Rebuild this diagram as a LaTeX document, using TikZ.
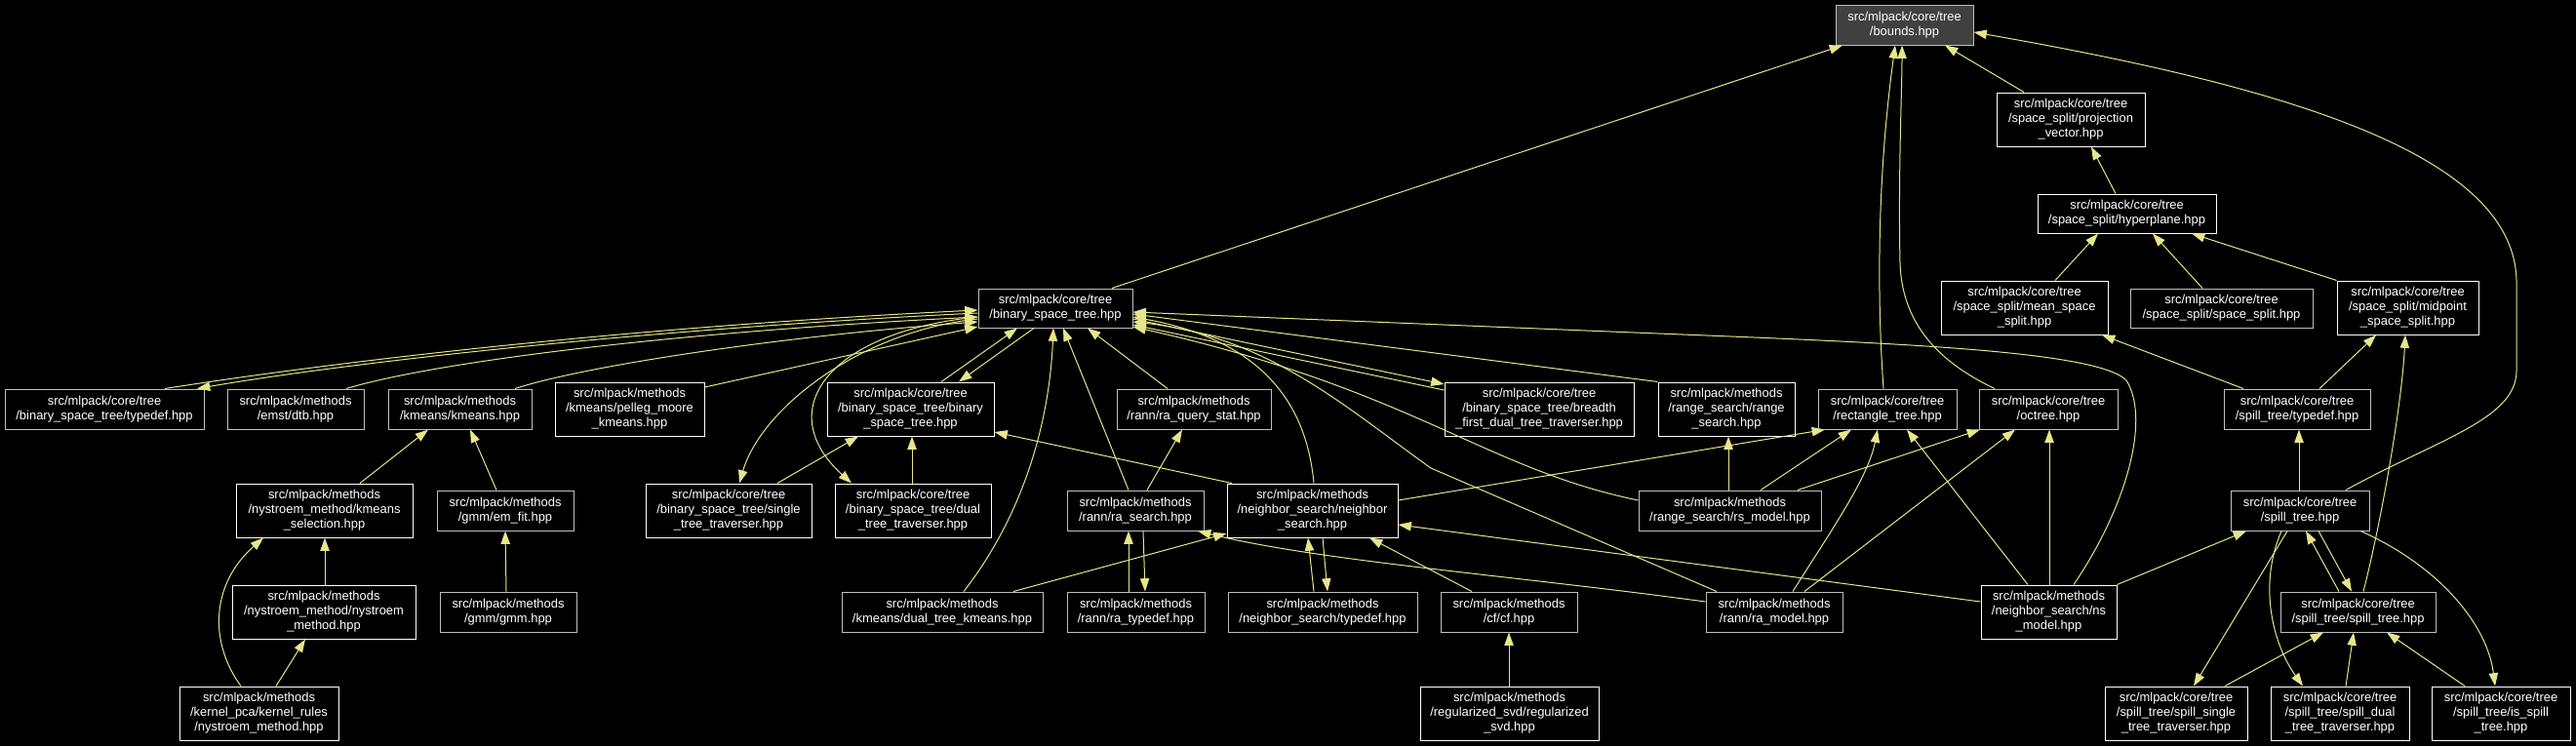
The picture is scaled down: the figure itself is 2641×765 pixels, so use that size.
\documentclass[tikz,border=0pt]{standalone}
\usepackage{fontspec}
\setmainfont{Liberation Sans}
\usetikzlibrary{arrows.meta}
\definecolor{edgecol}{HTML}{E6E68A}
\definecolor{graybd}{HTML}{BFBFBF}
\definecolor{rootfill}{HTML}{404040}
\newcommand{\mkbox}[7][wb]{\node[#1, minimum width={(#5-#3)*0.75pt}, minimum height={(#6-#4)*0.75pt}] (#2) at ({(#3+#5)/2},{(#4+#6)/2}) {#7};}
\tikzset{
  basebox/.style={rectangle, fill=black, text=white, inner sep=0pt, align=center, line width=0.75pt,
     font=\fontsize{9.7pt}{11.25pt}\selectfont},
  wb/.style={basebox, draw=white},
  gb/.style={basebox, draw=graybd},
  rb/.style={basebox, draw=graybd, fill=rootfill},
  edge/.style={draw=edgecol, line width=0.75pt, -{Triangle[length=10pt,width=7pt,fill=edgecol]}}
}
\begin{document}
\begin{tikzpicture}[x=0.75pt,y=-0.75pt]
\fill[black] (0,0) rectangle (2641,765);
\useasboundingbox (0,0) rectangle (2641,765);
% nodes
\mkbox[rb]{bounds}{1882}{5}{2023}{46}{src/mlpack/core/tree\\/bounds.hpp}
\mkbox{projv}{2047}{95}{2199}{150}{src/mlpack/core/tree\\/space\_split/projection\\\_vector.hpp}
\mkbox{hyper}{2089}{199}{2272}{239}{src/mlpack/core/tree\\/space\_split/hyperplane.hpp}
\mkbox{meanss}{1990}{288}{2161}{343}{src/mlpack/core/tree\\/space\_split/mean\_space\\\_split.hpp}
\mkbox[gb]{ss}{2184}{296}{2371}{336}{src/mlpack/core/tree\\/space\_split/space\_split.hpp}
\mkbox{midss}{2396}{288}{2541}{343}{src/mlpack/core/tree\\/space\_split/midpoint\\\_space\_split.hpp}
\mkbox[gb]{bst}{1003}{296}{1161}{336}{src/mlpack/core/tree\\/binary\_space\_tree.hpp}
\mkbox[gb]{bsttd}{5}{399}{209}{440}{src/mlpack/core/tree\\/binary\_space\_tree/typedef.hpp}
\mkbox[gb]{emst}{233}{399}{373}{440}{src/mlpack/methods\\/emst/dtb.hpp}
\mkbox[gb]{kmeans}{398}{399}{545}{440}{src/mlpack/methods\\/kmeans/kmeans.hpp}
\mkbox{pelleg}{569}{392}{722}{447}{src/mlpack/methods\\/kmeans/pelleg\_moore\\\_kmeans.hpp}
\mkbox{bstbst}{848}{392}{1019}{447}{src/mlpack/core/tree\\/binary\_space\_tree/binary\\\_space\_tree.hpp}
\mkbox[gb]{raqs}{1145}{399}{1303}{440}{src/mlpack/methods\\/rann/ra\_query\_stat.hpp}
\mkbox{bfdt}{1481}{392}{1675}{447}{src/mlpack/core/tree\\/binary\_space\_tree/breadth\\\_first\_dual\_tree\_traverser.hpp}
\mkbox{rsearch}{1700}{392}{1840}{447}{src/mlpack/methods\\/range\_search/range\\\_search.hpp}
\mkbox[gb]{rect}{1864}{399}{2006}{440}{src/mlpack/core/tree\\/rectangle\_tree.hpp}
\mkbox[gb]{octree}{2029}{399}{2171}{440}{src/mlpack/core/tree\\/octree.hpp}
\mkbox[gb]{spilltd}{2280}{399}{2430}{440}{src/mlpack/core/tree\\/spill\_tree/typedef.hpp}
\mkbox{kmsel}{242}{496}{423}{551}{src/mlpack/methods\\/nystroem\_method/kmeans\\\_selection.hpp}
\mkbox[gb]{emfit}{448}{503}{588}{544}{src/mlpack/methods\\/gmm/em\_fit.hpp}
\mkbox{bstsingle}{662}{496}{832}{551}{src/mlpack/core/tree\\/binary\_space\_tree/single\\\_tree\_traverser.hpp}
\mkbox{bstdual}{856}{496}{1016}{551}{src/mlpack/core/tree\\/binary\_space\_tree/dual\\\_tree\_traverser.hpp}
\mkbox[gb]{rasearch}{1094}{503}{1234}{544}{src/mlpack/methods\\/rann/ra\_search.hpp}
\mkbox{nsearch}{1258}{496}{1433}{551}{src/mlpack/methods\\/neighbor\_search/neighbor\\\_search.hpp}
\mkbox[gb]{rsmodel}{1680}{503}{1867}{544}{src/mlpack/methods\\/range\_search/rs\_model.hpp}
\mkbox[gb]{spilltree}{2287}{503}{2429}{544}{src/mlpack/core/tree\\/spill\_tree.hpp}
\mkbox{nystm}{238}{600}{426}{655}{src/mlpack/methods\\/nystroem\_method/nystroem\\\_method.hpp}
\mkbox[gb]{gmm}{451}{607}{591}{648}{src/mlpack/methods\\/gmm/gmm.hpp}
\mkbox[gb]{dtkm}{863}{607}{1069}{648}{src/mlpack/methods\\/kmeans/dual\_tree\_kmeans.hpp}
\mkbox[gb]{ratd}{1094}{607}{1235}{648}{src/mlpack/methods\\/rann/ra\_typedef.hpp}
\mkbox[gb]{nstd}{1259}{607}{1453}{648}{src/mlpack/methods\\/neighbor\_search/typedef.hpp}
\mkbox[gb]{cf}{1477}{607}{1617}{648}{src/mlpack/methods\\/cf/cf.hpp}
\mkbox[gb]{ramodel}{1749}{607}{1889}{648}{src/mlpack/methods\\/rann/ra\_model.hpp}
\mkbox{nsmodel}{2031}{600}{2170}{655}{src/mlpack/methods\\/neighbor\_search/ns\\\_model.hpp}
\mkbox[gb]{spillst}{2338}{607}{2497}{648}{src/mlpack/core/tree\\/spill\_tree/spill\_tree.hpp}
\mkbox{kernel}{184}{704}{347}{759}{src/mlpack/methods\\/kernel\_pca/kernel\_rules\\/nystroem\_method.hpp}
\mkbox{regsvd}{1456}{704}{1639}{759}{src/mlpack/methods\\/regularized\_svd/regularized\\\_svd.hpp}
\mkbox{spillsingle}{2158}{704}{2304}{759}{src/mlpack/core/tree\\/spill\_tree/spill\_single\\\_tree\_traverser.hpp}
\mkbox{spilldual}{2328}{704}{2470}{759}{src/mlpack/core/tree\\/spill\_tree/spill\_dual\\\_tree\_traverser.hpp}
\mkbox{isspill}{2493}{704}{2635}{759}{src/mlpack/core/tree\\/spill\_tree/is\_spill\\\_tree.hpp}
% edges into bounds
\draw[edge] (1140,0 |- bst.north) -- (1889,0 |- bounds.south);
\draw[edge] (2075,0 |- projv.north) -- (1994,0 |- bounds.south);
\draw[edge] (1931,0 |- rect.north) .. controls (1926,330) and (1922,200) .. (1943,0 |- bounds.south);
\draw[edge] (2045,0 |- octree.north) .. controls (1985,370) and (1950,330) .. (1948,270) .. controls (1946,180) and (1950,90) .. (1950,0 |- bounds.south);
\draw[edge] (2405,0 |- spilltree.north) .. controls (2500,450) and (2580,430) .. (2580,380) -- (2580,290) .. controls (2580,160) and (2350,90) .. (bounds.east |- 0,33);
% space split
\draw[edge] (2169,0 |- hyper.north) -- (2144,0 |- projv.south);
\draw[edge] (2107,0 |- meanss.north) -- (2151,0 |- hyper.south);
\draw[edge] (2258,0 |- ss.north) -- (2207,0 |- hyper.south);
\draw[edge] (midss.north west) -- (2247,0 |- hyper.south);
\draw[edge] (2300,0 |- spilltd.north) -- (2155,0 |- meanss.south);
\draw[edge] (2378,0 |- spilltd.north) -- (2436,0 |- midss.south);
\draw[edge] (2423,0 |- spillst.north) .. controls (2440,540) and (2462,420) .. (2466,0 |- midss.south);
% spill tree
\draw[edge] (2357,0 |- spilltree.north) -- (2357,0 |- spilltd.south);
\draw[edge] (nsmodel.north east) -- (2303,0 |- spilltree.south);
\draw[edge] (2398,0 |- spillst.north) -- (2364,0 |- spilltree.south);
\draw[edge] (2377,0 |- spilltree.south) -- (2411,0 |- spillst.north);
\draw[edge] (2345,0 |- spilltree.south) -- (2249,0 |- spillsingle.north);
\draw[edge] (2339,0 |- spilltree.south) .. controls (2315,600) and (2330,660) .. (2361,0 |- spilldual.north);
\draw[edge] (2420,0 |- spilltree.south) .. controls (2500,580) and (2550,640) .. (2558,0 |- isspill.north);
\draw[edge] (2281,0 |- spillsingle.north) -- (2382,0 |- spillst.south);
\draw[edge] (2405,0 |- spilldual.north) -- (2413,0 |- spillst.south);
\draw[edge] (2527,0 |- isspill.north) -- (2447,0 |- spillst.south);
% rectangle tree / octree
\draw[edge] (nsearch.east |- 0,513) -- (1871,0 |- rect.south);
\draw[edge] (1805,0 |- rsmodel.north) -- (1898,0 |- rect.south);
\draw[edge] (1838,0 |- ramodel.north) .. controls (1880,540) and (1915,490) .. (1925,0 |- rect.south);
\draw[edge] (2079,0 |- nsmodel.north) -- (1955,0 |- rect.south);
\draw[edge] (1843,0 |- rsmodel.north) -- (2030,0 |- octree.south);
\draw[edge] (1850,0 |- ramodel.north) -- (2066,0 |- octree.south);
\draw[edge] (2101,0 |- nsmodel.north) -- (2101,0 |- octree.south);
\draw[edge] (1772,0 |- rsmodel.north) -- (1772,0 |- rsearch.south);
% ns_model
\draw[edge] (2126,0 |- nsmodel.north) .. controls (2180,520) and (2205,430) .. (2180,390) .. controls (2150,360) and (1950,352) .. (1700,342) -- (bst.east |- 0,320);
\draw[edge] (nsmodel.west |- 0,617) -- (nsearch.east |- 0,538);
% ra_model, rs_model
\draw[edge] (1760,0 |- ramodel.north) -- (1467,480) .. controls (1380,418) and (1300,345) .. (bst.east |- 0,330);
\draw[edge] (ramodel.west |- 0,617) .. controls (1550,590) and (1350,575) .. (1228,0 |- rasearch.south);
\draw[edge] (rsmodel.west |- 0,513) .. controls (1520,480) and (1450,400) .. (bst.east |- 0,335);
\draw[edge] (rsearch.north west) -- (bst.east |- 0,322);
\draw[edge] (bst.east |- 0,327) -- (bfdt.west |- 0,394);
\draw[edge] (bfdt.west |- 0,400) -- (bst.east |- 0,333);
\draw[edge] (1347,0 |- nsearch.north) .. controls (1340,420) and (1300,350) .. (bst.east |- 0,325);
% bst bottom
\draw[edge] (988,0 |- dtkm.north) .. controls (1040,540) and (1075,450) .. (1080,0 |- bst.south);
\draw[edge] (1157,0 |- rasearch.north) -- (1090,0 |- bst.south);
\draw[edge] (1176,0 |- rasearch.north) -- (1212,0 |- raqs.south);
\draw[edge] (1197,0 |- raqs.north) -- (1115,0 |- bst.south);
\draw[edge] (1157,0 |- ratd.north) -- (1157,0 |- rasearch.south);
\draw[edge] (1172,0 |- rasearch.south) -- (1174,0 |- ratd.north);
\draw[edge] (1347,0 |- nstd.north) -- (1341,0 |- nsearch.south);
\draw[edge] (1356,0 |- nsearch.south) -- (1361,0 |- nstd.north);
\draw[edge] (1509,0 |- cf.north) -- (1404,0 |- nsearch.south);
\draw[edge] (1547,0 |- regsvd.north) -- (1547,0 |- cf.south);
\draw[edge] (1039,0 |- dtkm.north) -- (nsearch.west |- 0,547);
\draw[edge] (1263,0 |- nsearch.north) -- (bstbst.east |- 0,443);
\draw[edge] (965,0 |- bstbst.north) -- (1043,0 |- bst.south);
\draw[edge] (1060,0 |- bst.south) -- (983,0 |- bstbst.north);
\draw[edge] (bst.west |- 0,327) .. controls (880,340) and (780,420) .. (758,0 |- bstsingle.north);
\draw[edge] (bst.west |- 0,325) .. controls (850,340) and (790,420) .. (873,0 |- bstdual.north);
\draw[edge] (797,0 |- bstsingle.north) -- (880,0 |- bstbst.south);
\draw[edge] (935,0 |- bstdual.north) -- (935,0 |- bstbst.south);
% left side
\draw[edge] (169,0 |- bsttd.north) .. controls (350,370) and (650,335) .. (bst.west |- 0,318);
\draw[edge] (bst.west |- 0,321) .. controls (650,338) and (350,373) .. (202,0 |- bsttd.north);
\draw[edge] (355,0 |- emst.north) .. controls (450,370) and (700,340) .. (bst.west |- 0,325);
\draw[edge] (528,0 |- kmeans.north) .. controls (600,375) and (800,345) .. (bst.west |- 0,330);
\draw[edge] (pelleg.east |- 0,397) -- (bst.west |- 0,335);
\draw[edge] (369,0 |- kmsel.north) -- (439,0 |- kmeans.south);
\draw[edge] (509,0 |- emfit.north) -- (482,0 |- kmeans.south);
\draw[edge] (519,0 |- gmm.north) -- (518,0 |- emfit.south);
\draw[edge] (333,0 |- nystm.north) -- (333,0 |- kmsel.south);
\draw[edge] (247,0 |- kernel.north) .. controls (215,660) and (215,600) .. (270,0 |- kmsel.south);
\draw[edge] (283,0 |- kernel.north) -- (313,0 |- nystm.south);
\end{tikzpicture}
\end{document}
